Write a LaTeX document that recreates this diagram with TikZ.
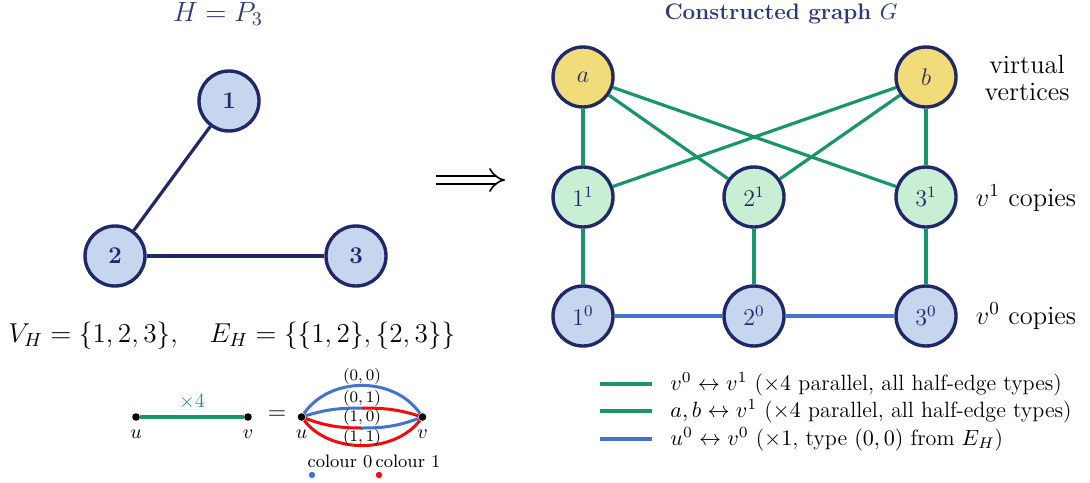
\RequirePackage{fix-cm}
\documentclass[tikz,border=0pt]{standalone}
\usepackage{amsmath,amssymb}
\usepackage{tikz}
\usetikzlibrary{arrows.meta, calc}

\definecolor{navy}{RGB}{33,40,105}
\definecolor{titlenavy}{RGB}{45,55,125}
\definecolor{fillblue}{RGB}{198,214,238}
\definecolor{fillgreen}{RGB}{200,238,212}
\definecolor{fillyellow}{RGB}{242,220,122}
\definecolor{edgegreen}{RGB}{24,150,105}
\definecolor{edgeblue}{RGB}{68,114,205}
\definecolor{edgered}{RGB}{240,12,12}

\tikzset{
  vnode/.style={circle, draw=navy, line width=1.7pt, minimum size=30pt, inner sep=0pt,
                text=navy, font=\large},
  hnode/.style={vnode, fill=fillblue},
  onode/.style={vnode, fill=fillblue},
  inode/.style={vnode, fill=fillgreen},
  anode/.style={vnode, fill=fillyellow},
  hedge/.style={navy, line width=1.6pt},
  gedge/.style={edgegreen, line width=1.6pt},
  bedge/.style={edgeblue, line width=1.6pt},
  redge/.style={edgered, line width=1.5pt},
  dot/.style={circle, fill=black, inner sep=0pt, minimum size=3.8pt},
  cdot/.style={circle, inner sep=0pt, minimum size=3.2pt},
  sidetext/.style={font=\fontsize{13.2}{13.4}\selectfont, align=center},
  legtext/.style={anchor=west, inner sep=0pt, font=\fontsize{11.05}{14}\selectfont},
}

\begin{document}
\begin{tikzpicture}[x=0.5pt,y=0.5pt,>=stealth]

\useasboundingbox (0,0) rectangle (1090,-482);

% ---- grafo H ----
\node[titlenavy, font=\fontsize{13.9}{16}\selectfont] (htitle) at (218,-14) {$H = P_3$};

\node[hnode] (h1) at (229,-101) {$\mathbf{1}$};
\node[hnode] (h2) at (115,-256) {$\mathbf{2}$};
\node[hnode] (h3) at (356,-256) {$\mathbf{3}$};

\draw[hedge] (h1) -- (h2);
\draw[hedge] (h2) -- (h3);

\node[font=\fontsize{13.65}{16}\selectfont] (vhset) at (232,-336)
  {$V_H = \{1,2,3\}, \quad E_H = \{\{1,2\},\{2,3\}\}$};

% freccia
\coordinate (impA) at (436,-180);
\coordinate (impB) at (505,-180);
\draw[double, double distance=3.4pt, line width=0.8pt, -{Implies}] (impA) -- (impB);

% ---- grafo costruito G ----
\node[titlenavy, font=\fontsize{11.2}{13}\selectfont\bfseries] (gtitle) at (781,-13.5)
  {Constructed graph $G$};

\node[anode] (va) at (583,-77) {$a$};
\node[anode] (vb) at (926,-77) {$b$};

\foreach \i/\x in {1/583,2/754,3/926} {
  \node[inode] (v\i-1) at (\x,-197) {$\i^1$};
  \node[onode] (v\i-0) at (\x,-316) {$\i^0$};
}

\foreach \i in {1,2,3} {
  \draw[gedge] (va) -- (v\i-1);
  \draw[gedge] (vb) -- (v\i-1);
  \draw[gedge] (v\i-1) -- (v\i-0);
}
\draw[bedge] (v1-0) -- (v2-0);
\draw[bedge] (v2-0) -- (v3-0);

% etichette a destra
\node[sidetext] (virt) at (1027,-78) {virtual\\vertices};
\node[sidetext] (cp1) at (1026,-198) {$v^1$ copies};
\node[sidetext] (cp0) at (1026,-316) {$v^0$ copies};

% ---- legenda ----
\coordinate (lg1a) at (600,-384);  \coordinate (lg1b) at (652,-384);
\coordinate (lg2a) at (600,-411); \coordinate (lg2b) at (652,-411);
\coordinate (lg3a) at (600,-439);  \coordinate (lg3b) at (652,-439);
\draw[gedge] (lg1a) -- (lg1b);
\draw[gedge] (lg2a) -- (lg2b);
\draw[bedge] (lg3a) -- (lg3b);
\node[legtext] (lt1) at (670,-384)
  {$v^0 \leftrightarrow v^1$ ($\times 4$ parallel, all half-edge types)};
\node[legtext] (lt2) at (670,-411)
  {$a, b \leftrightarrow v^1$ ($\times 4$ parallel, all half-edge types)};
\node[legtext] (lt3) at (670,-439)
  {$u^0 \leftrightarrow v^0$ ($\times 1$, type $(0,0)$ from $E_H$)};

% ---- arco multiplo u-v ----
\node[dot, label={[label distance=1pt]below:$u$}] (u1) at (136,-417) {};
\node[dot, label={[label distance=1pt]below:$v$}] (w1) at (248,-417) {};
\draw[gedge] (u1) -- node[above, edgegreen] {$\times 4$} (w1);

\node[font=\large] (eqs) at (277,-415) {$=$};

\node[dot, label={[label distance=1pt]below:$u$}] (u2) at (301.5,-417) {};
\node[dot, label={[label distance=1pt]below:$v$}] (w2) at (422.5,-417) {};
\coordinate (m01) at (362,-408);
\coordinate (m10) at (362,-428);

\draw[bedge, line width=1.5pt] (u2) .. controls (330,-376) and (394,-376) .. (w2);
\draw[bedge, line width=1.5pt] (u2) to[out=17,in=180] (m01);
\draw[redge] (m01) to[out=0,in=163] (w2);
\draw[redge] (u2) to[out=-20,in=180] (m10);
\draw[bedge, line width=1.5pt] (m10) to[out=0,in=-160] (w2);
\draw[redge] (u2) .. controls (330,-454) and (394,-454) .. (w2);

\node[font=\footnotesize] (t00) at (362,-376) {$(0,0)$};
\node[font=\footnotesize] (t01) at (362,-398) {$(0,1)$};
\node[font=\footnotesize] (t10) at (362,-417.5) {$(1,0)$};
\node[font=\footnotesize] (t11) at (362,-437) {$(1,1)$};

% colori
\node[font=\small] (col0) at (340,-461) {colour 0};
\node[font=\small] (col1) at (408,-461) {colour 1};
\node[cdot, fill=edgeblue] (d0) at (312,-475) {};
\node[cdot, fill=edgered] (d1) at (379,-475) {};

\end{tikzpicture}
\end{document}
